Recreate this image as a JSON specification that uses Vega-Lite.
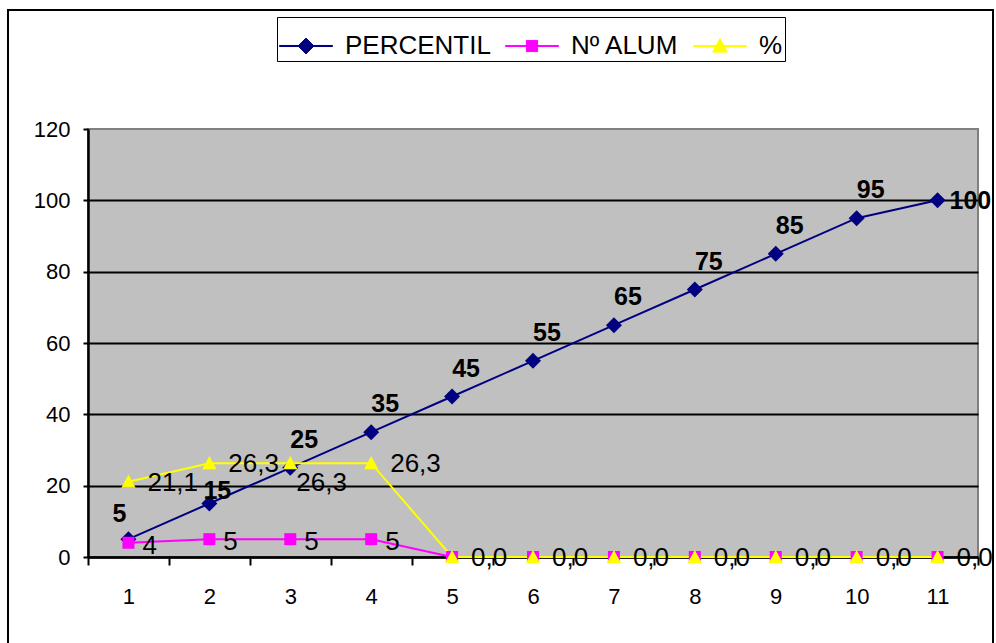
{
  "$schema": "https://vega.github.io/schema/vega-lite/v6.json",
  "autosize": {"type": "none"},
  "padding": {"left": 88, "top": 129, "right": 18, "bottom": 86},
  "width": 890,
  "height": 428,
  "background": "white",
  "config": {
    "view": {"fill": "#C0C0C0", "stroke": "#808080", "strokeWidth": 2},
    "locale": {"number": {"decimal": ",", "thousands": ".", "grouping": [3], "currency": ["", " €"]}},
    "text": {"font": "Liberation Sans", "color": "black"}
  },
  "datasets": {
    "series": [
      {"x": 1, "serie": "PERCENTIL", "v": 5},
      {"x": 2, "serie": "PERCENTIL", "v": 15},
      {"x": 3, "serie": "PERCENTIL", "v": 25},
      {"x": 4, "serie": "PERCENTIL", "v": 35},
      {"x": 5, "serie": "PERCENTIL", "v": 45},
      {"x": 6, "serie": "PERCENTIL", "v": 55},
      {"x": 7, "serie": "PERCENTIL", "v": 65},
      {"x": 8, "serie": "PERCENTIL", "v": 75},
      {"x": 9, "serie": "PERCENTIL", "v": 85},
      {"x": 10, "serie": "PERCENTIL", "v": 95},
      {"x": 11, "serie": "PERCENTIL", "v": 100},
      {"x": 1, "serie": "Nº ALUM", "v": 4},
      {"x": 2, "serie": "Nº ALUM", "v": 5},
      {"x": 3, "serie": "Nº ALUM", "v": 5},
      {"x": 4, "serie": "Nº ALUM", "v": 5},
      {"x": 5, "serie": "Nº ALUM", "v": 0},
      {"x": 6, "serie": "Nº ALUM", "v": 0},
      {"x": 7, "serie": "Nº ALUM", "v": 0},
      {"x": 8, "serie": "Nº ALUM", "v": 0},
      {"x": 9, "serie": "Nº ALUM", "v": 0},
      {"x": 10, "serie": "Nº ALUM", "v": 0},
      {"x": 11, "serie": "Nº ALUM", "v": 0},
      {"x": 1, "serie": "%", "v": 21.1},
      {"x": 2, "serie": "%", "v": 26.3},
      {"x": 3, "serie": "%", "v": 26.3},
      {"x": 4, "serie": "%", "v": 26.3},
      {"x": 5, "serie": "%", "v": 0},
      {"x": 6, "serie": "%", "v": 0},
      {"x": 7, "serie": "%", "v": 0},
      {"x": 8, "serie": "%", "v": 0},
      {"x": 9, "serie": "%", "v": 0},
      {"x": 10, "serie": "%", "v": 0},
      {"x": 11, "serie": "%", "v": 0}
    ]
  },
  "layer": [
    {
      "data": {"name": "series"},
      "encoding": {
        "x": {"field": "x", "type": "quantitative", "scale": {"domain": [0.5, 11.5], "nice": false, "zero": false},
          "axis": {"orient": "bottom", "values": [0.5, 1, 1.5, 2, 2.5, 3, 3.5, 4, 4.5, 5, 5.5, 6, 6.5, 7, 7.5, 8, 8.5, 9, 9.5, 10, 10.5, 11, 11.5],
            "domain": true, "domainColor": "black", "domainWidth": 2.5, "grid": false, "title": null,
            "tickSize": 8, "tickWidth": 2, "tickColor": "black",
            "tickOpacity": {"condition": {"test": "datum.value % 1 === 0", "value": 0}, "value": 1},
            "labelExpr": "datum.value % 1 === 0 ? format(datum.value, 'd') : ''",
            "labelPadding": 21, "labelFont": "Liberation Sans", "labelFontSize": 22, "labelColor": "black",
            "labelOverlap": false, "labelFlush": false, "labelBaseline": "top"}},
        "y": {"field": "v", "type": "quantitative", "scale": {"domain": [0, 120], "nice": false, "zero": false},
          "axis": {"orient": "left", "values": [0, 20, 40, 60, 80, 100, 120],
            "domain": true, "domainColor": "black", "domainWidth": 2.5,
            "grid": true, "gridColor": "black", "gridWidth": 2,
            "gridOpacity": {"condition": {"test": "datum.value === 120", "value": 0}, "value": 1},
            "title": null, "tickSize": 5, "tickWidth": 2, "tickColor": "black", "format": "d", "labelPadding": 13,
            "labelFont": "Liberation Sans", "labelFontSize": 22, "labelColor": "black", "labelOverlap": false, "labelFlush": false}}
      },
      "layer": [
        {
          "mark": {"type": "line", "strokeWidth": 2},
          "encoding": {
            "color": {"field": "serie", "type": "nominal",
              "scale": {"domain": ["PERCENTIL", "Nº ALUM", "%"], "range": ["#000080", "#FF00FF", "#FFFF00"]},
              "legend": {"orient": "none", "legendX": 189, "legendY": -112, "direction": "horizontal", "title": null,
                "strokeColor": "black", "padding": 2,
                "labelFont": "Liberation Sans", "labelFontSize": 26, "labelColor": "black", "labelLimit": 0,
                "symbolSize": 2809, "symbolStrokeWidth": 1, "labelOffset": 12, "columnPadding": 12,
                "encode": {"symbols": {"update": {
                  "shape": {"signal": "datum.value === 'PERCENTIL' ? 'M-1,-0.02L1,-0.02L1,0.02L-1,0.02ZM0,-0.3L0.3,0L0,0.3L-0.3,0Z' : datum.value === '%' ? 'M-1,-0.02L1,-0.02L1,0.02L-1,0.02ZM0,-0.28L0.28,0.23L-0.28,0.23Z' : 'M-1,-0.02L1,-0.02L1,0.02L-1,0.02ZM-0.21,-0.21L0.21,-0.21L0.21,0.21L-0.21,0.21Z'"},
                  "fill": {"signal": "datum.value === 'PERCENTIL' ? '#000080' : datum.value === '%' ? '#FFFF00' : '#FF00FF'"},
                  "fillOpacity": {"value": 1},
                  "opacity": {"value": 1}
                }}}}
            }
          }
        },
        {
          "transform": [{"filter": "datum.serie === 'PERCENTIL'"}],
          "mark": {"type": "point", "filled": true, "opacity": 1, "size": 256, "color": "#000080", "shape": "M0,-1L1,0L0,1L-1,0Z"},
          "encoding": {}
        },
        {
          "transform": [{"filter": "datum.serie === 'Nº ALUM'"}],
          "mark": {"type": "point", "filled": true, "opacity": 1, "size": 225, "color": "#FF00FF", "shape": "M-0.8,-0.8L0.8,-0.8L0.8,0.8L-0.8,0.8Z"},
          "encoding": {}
        },
        {
          "transform": [{"filter": "datum.serie === '%'"}],
          "mark": {"type": "point", "filled": true, "opacity": 1, "size": 225, "color": "#FFFF00", "shape": "M0,-0.95L0.95,0.8L-0.95,0.8Z"},
          "encoding": {}
        },
        {
          "transform": [{"filter": "datum.serie === 'PERCENTIL' && datum.x >= 3 && datum.x <= 10"}],
          "mark": {"type": "text", "fontWeight": "bold", "fontSize": 25, "align": "center", "baseline": "middle", "dx": 14, "dy": -28},
          "encoding": {"text": {"field": "v", "type": "quantitative", "format": "d"}}
        },
        {
          "transform": [{"filter": "datum.serie === 'PERCENTIL' && datum.x === 1"}],
          "mark": {"type": "text", "fontWeight": "bold", "fontSize": 25, "align": "center", "baseline": "middle", "dx": -9, "dy": -25},
          "encoding": {"text": {"field": "v", "type": "quantitative", "format": "d"}}
        },
        {
          "transform": [{"filter": "datum.serie === 'PERCENTIL' && datum.x === 2"}],
          "mark": {"type": "text", "fontWeight": "bold", "fontSize": 25, "align": "center", "baseline": "middle", "dx": 8, "dy": -13},
          "encoding": {"text": {"field": "v", "type": "quantitative", "format": "d"}}
        },
        {
          "transform": [{"filter": "datum.serie === 'PERCENTIL' && datum.x === 11"}],
          "mark": {"type": "text", "fontWeight": "bold", "fontSize": 25, "align": "left", "baseline": "middle", "dx": 12, "dy": 1},
          "encoding": {"text": {"field": "v", "type": "quantitative", "format": "d"}}
        },
        {
          "transform": [{"filter": "datum.serie === 'Nº ALUM' && datum.v > 0"}],
          "mark": {"type": "text", "fontSize": 26, "align": "left", "baseline": "middle", "dx": 14, "dy": 3},
          "encoding": {"text": {"field": "v", "type": "quantitative", "format": "d"}}
        },
        {
          "transform": [{"filter": "datum.serie === '%' && datum.x !== 3"}],
          "mark": {"type": "text", "fontSize": 26, "align": "left", "baseline": "middle", "dx": 19, "dy": 1},
          "encoding": {"text": {"field": "v", "type": "quantitative", "format": ".1f"}}
        },
        {
          "transform": [{"filter": "datum.serie === '%' && datum.x === 3"}],
          "mark": {"type": "text", "fontSize": 26, "align": "left", "baseline": "middle", "dx": 6, "dy": 20},
          "encoding": {"text": {"field": "v", "type": "quantitative", "format": ".1f"}}
        }
      ]
    },
    {
      "data": {"values": [{"k": 1}]},
      "mark": {"type": "rect", "fill": null, "fillOpacity": 0, "stroke": "black", "strokeWidth": 2},
      "encoding": {
        "x": {"datum": -0.48876, "type": "quantitative", "scale": {"domain": [0.5, 11.5], "nice": false, "zero": false},
          "axis": {"orient": "bottom", "values": [0.5, 1, 1.5, 2, 2.5, 3, 3.5, 4, 4.5, 5, 5.5, 6, 6.5, 7, 7.5, 8, 8.5, 9, 9.5, 10, 10.5, 11, 11.5],
            "domain": true, "domainColor": "black", "domainWidth": 2.5, "grid": false, "title": null,
            "tickSize": 8, "tickWidth": 2, "tickColor": "black",
            "tickOpacity": {"condition": {"test": "datum.value % 1 === 0", "value": 0}, "value": 1},
            "labelExpr": "datum.value % 1 === 0 ? format(datum.value, 'd') : ''",
            "labelPadding": 21, "labelFont": "Liberation Sans", "labelFontSize": 22, "labelColor": "black",
            "labelOverlap": false, "labelFlush": false, "labelBaseline": "top"}},
        "x2": {"datum": 11.68539},
        "y": {"datum": -26.075, "type": "quantitative", "scale": {"domain": [0, 120], "nice": false, "zero": false},
          "axis": {"orient": "left", "values": [0, 20, 40, 60, 80, 100, 120],
            "domain": true, "domainColor": "black", "domainWidth": 2.5,
            "grid": true, "gridColor": "black", "gridWidth": 2,
            "gridOpacity": {"condition": {"test": "datum.value === 120", "value": 0}, "value": 1},
            "title": null, "tickSize": 5, "tickWidth": 2, "tickColor": "black", "format": "d", "labelPadding": 13,
            "labelFont": "Liberation Sans", "labelFontSize": 22, "labelColor": "black", "labelOverlap": false, "labelFlush": false}},
        "y2": {"datum": 153.364}
      }
    }
  ]
}
